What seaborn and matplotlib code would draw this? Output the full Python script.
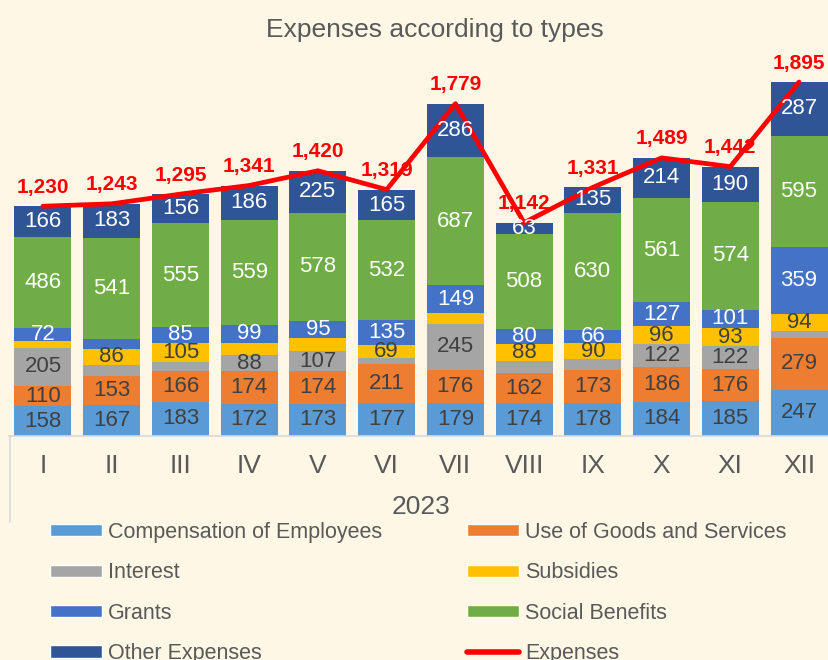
import numpy as np
import seaborn as sns
import matplotlib.pyplot as plt
from matplotlib.patches import Patch
from matplotlib.lines import Line2D

# data (EUR mn)
months = ['I', 'II', 'III', 'IV', 'V', 'VI', 'VII', 'VIII', 'IX', 'X', 'XI', 'XII']
compensation = [158, 167, 183, 172, 173, 177, 179, 174, 178, 184, 185, 247]
goods_services = [110, 153, 166, 174, 174, 211, 176, 162, 173, 186, 176, 279]
interest = [205, 61, 45, 88, 107, 30, 245, 67, 59, 122, 122, 34]
subsidies = [33, 86, 105, 63, 68, 69, 57, 88, 90, 96, 93, 94]
grants = [72, 52, 85, 99, 95, 135, 149, 80, 66, 127, 101, 359]
social_benefits = [486, 541, 555, 559, 578, 532, 687, 508, 630, 561, 574, 595]
other_expenses = [166, 183, 156, 186, 225, 165, 286, 63, 135, 214, 190, 287]
expenses = [1230, 1243, 1295, 1341, 1420, 1319, 1779, 1142, 1331, 1489, 1442, 1895]

series_names = ['Compensation of Employees', 'Use of Goods and Services', 'Interest',
                'Subsidies', 'Grants', 'Social Benefits', 'Other Expenses']
series_vals = [compensation, goods_services, interest, subsidies, grants,
               social_benefits, other_expenses]
colors = ['#5B9BD5', '#ED7D31', '#A5A5A5', '#FFC000', '#4472C4', '#70AD47', '#2F5597']
label_colors = ['#404040', '#404040', '#404040', '#404040', 'white', 'white', 'white']

# labels that Excel left out (series index, month index)
hidden = {(3, 0), (2, 1), (4, 1), (2, 2), (3, 3), (3, 4), (2, 5), (3, 6),
          (2, 7), (2, 8), (2, 11)}

bg = '#FEF7E6'
grey_txt = '#595959'

sns.set_theme(style='white')
plt.rcParams['font.family'] = ['Liberation Sans', 'DejaVu Sans']

fig = plt.figure(figsize=(8.29, 6.60), dpi=100, facecolor=bg)
ax = fig.add_axes([8.6 / 829, 224 / 660, 824.8 / 829, 373.6 / 660])
ax.set_facecolor(bg)

# stacked bars: draw cumulative sums from the top series down
cum = np.cumsum(np.array(series_vals), axis=0)
for k in range(len(series_vals) - 1, -1, -1):
    sns.barplot(x=months, y=cum[k], color=colors[k], saturation=1, width=0.83,
                errorbar=None, linewidth=0, edgecolor='none', ax=ax)

# segment labels
for k, vals in enumerate(series_vals):
    for i, v in enumerate(vals):
        if (k, i) in hidden:
            continue
        ax.text(i, cum[k][i] - v / 2, str(v), ha='center', va='center',
                fontsize=16, color=label_colors[k])

# total expenses line
sns.lineplot(x=months, y=expenses, color='#FF0000', lw=3.4, errorbar=None,
             sort=False, ax=ax)
for i, v in enumerate(expenses):
    ax.annotate(f'{v:,}', (i, v), xytext=(0, 19), textcoords='offset pixels',
                ha='center', va='center', fontsize=15, fontweight='bold',
                color='#FF0000', annotation_clip=False)

ax.set_xlim(-0.5, 11.5)
ax.set_ylim(0, 2000)
ax.set_yticks([])
ax.set_ylabel('')
for s in ax.spines.values():
    s.set_visible(False)
ax.axhline(0, color='#D9D9D9', lw=1.2, clip_on=False)
ax.set_xticks(range(12))
ax.set_xticklabels(months, fontsize=19, color=grey_txt)
ax.tick_params(axis='x', length=0, pad=13)

fig.add_artist(Line2D([10 / 829, 10 / 829], [1 - 436 / 660, 1 - 522 / 660],
                      color='#D9D9D9', lw=1.2))
fig.text(421 / 829, 1 - 507 / 660, '2023', ha='center', va='center', fontsize=19,
         color=grey_txt)

fig.text(435 / 829, 1 - 30 / 660, 'Expenses according to types', ha='center',
         va='center', fontsize=19, color=grey_txt)

# legend, filled column by column
patches = [Patch(facecolor=c, label=n) for c, n in zip(colors, series_names)]
line_h = Line2D([], [], color='#FF0000', lw=4, label='Expenses')
order = [patches[0], patches[2], patches[4], patches[6],
         patches[1], patches[3], patches[5], line_h]
leg = fig.legend(handles=order, labels=[h.get_label() for h in order], ncol=2,
                 loc='upper left', bbox_to_anchor=(50 / 829, 1 - 522 / 660),
                 frameon=False, fontsize=15.5, handlelength=2.4, handleheight=0.5,
                 handletextpad=0.3, columnspacing=3.95, labelspacing=0.9,
                 borderpad=0, borderaxespad=0)
for t in leg.get_texts():
    t.set_color(grey_txt)

fig.savefig('out.png', dpi=100, facecolor=bg)
